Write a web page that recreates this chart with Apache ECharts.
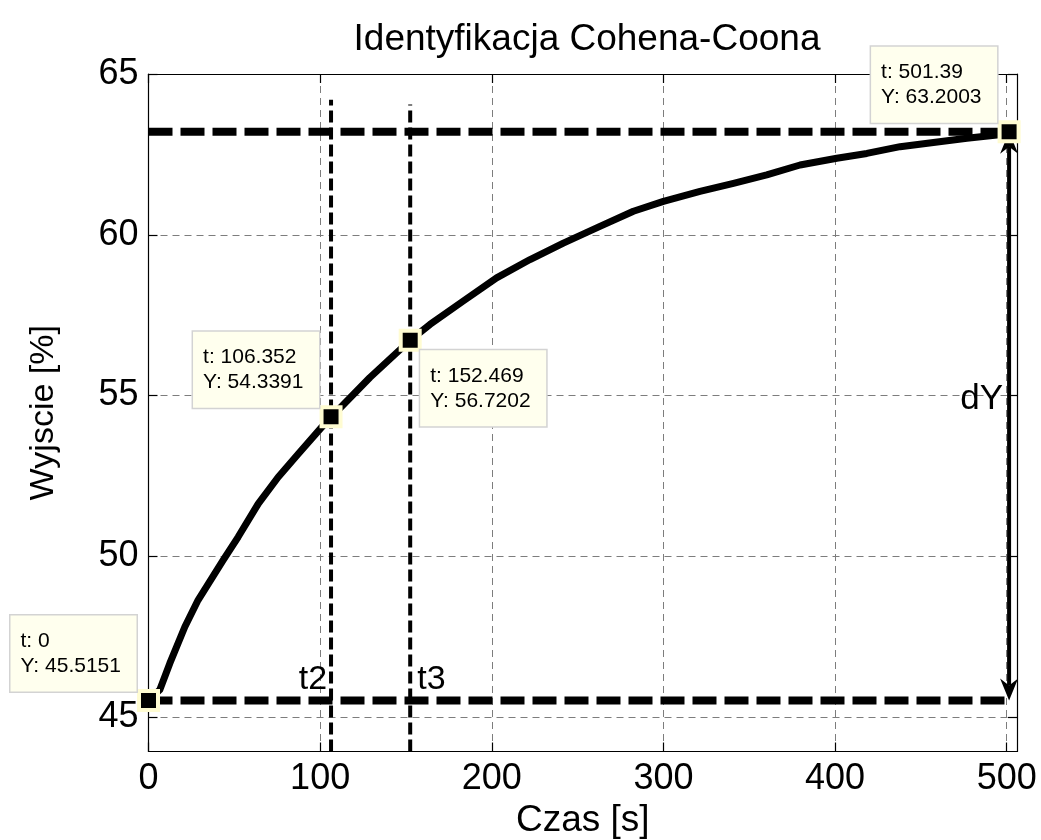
<!DOCTYPE html>
<html>
<head>
<meta charset="utf-8">
<title>Identyfikacja Cohena-Coona</title>
<script src="https://cdn.jsdelivr.net/npm/echarts@6/dist/echarts.min.js"></script>
<style>
  html, body { margin: 0; padding: 0; background: #ffffff; }
  #chart { width: 1041px; height: 840px; }
</style>
</head>
<body>
<div id="chart"></div>
<script>
// Measured step response of the process: time [s] and output [%]
const timeS = [0, 6.6, 12.4, 21.2, 28.9, 43.5, 52.2, 63.9, 75.5, 87.2, 100.8, 106.352,
  110.5, 129, 152.469, 164, 183.4, 202.8, 222.3, 241.7, 263, 282.5, 300, 321.3,
  340.8, 360.2, 379.6, 401, 418.5, 437.9, 457.3, 476.8, 494.3, 501.39];
const outputPct = [45.5151, 45.85, 46.67, 47.81, 48.64, 49.88, 50.6, 51.63, 52.46, 53.18, 54.01, 54.3391,
  54.55, 55.56, 56.7202, 57.21, 57.94, 58.66, 59.23, 59.74, 60.26, 60.73, 61.04, 61.35,
  61.6, 61.86, 62.17, 62.38, 62.53, 62.74, 62.87, 63.0, 63.1, 63.2003];

// Data tips: start point, t2, t3 and end point
const tipTime = [0, 106.352, 152.469, 501.39];
const tipValue = [45.5151, 54.3391, 56.7202, 63.2003];

// Construction lines at t2 and t3 and their names
const lineTags = ['t2', 't3'];
const lineTopValue = [64.2, 64.05];

// Axes
const xTicks = [0, 100, 200, 300, 400, 500];
const yTicks = [45, 50, 55, 60, 65];
const xRange = [0, 506];
const yRange = [43.93, 65];

const FONT = '"Liberation Sans", Arial, Helvetica, sans-serif';
const yLow = tipValue[0];
const yHigh = tipValue[3];
const tEnd = tipTime[3];

const gridLine = { show: true, lineStyle: { color: '#7d7d7d', width: 1, type: [7, 5] } };
const frameLine = { show: true, onZero: false, lineStyle: { color: '#000', width: 1.2 } };
const tickStyle = { color: '#000', width: 1.2 };

function mainX() {
  return {
    type: 'value', position: 'bottom', min: xRange[0], max: xRange[1],
    axisLine: frameLine,
    axisTick: { show: true, inside: true, length: 9, customValues: xTicks, lineStyle: tickStyle },
    axisLabel: { show: true, customValues: xTicks, margin: 10, fontSize: 36, color: '#000', fontFamily: FONT },
    splitLine: gridLine,
    name: 'Czas [s]', nameLocation: 'middle', nameGap: 50,
    nameTextStyle: { fontSize: 37, color: '#000', fontFamily: FONT }
  };
}
function mirrorX() {
  return {
    type: 'value', position: 'top', min: xRange[0], max: xRange[1],
    axisLine: frameLine,
    axisTick: { show: true, inside: true, length: 9, customValues: xTicks, lineStyle: tickStyle },
    axisLabel: { show: false }, splitLine: { show: false }
  };
}
function mainY() {
  return {
    type: 'value', position: 'left', min: yRange[0], max: yRange[1],
    axisLine: frameLine,
    axisTick: { show: true, inside: true, length: 9, customValues: yTicks, lineStyle: tickStyle },
    axisLabel: { show: true, customValues: yTicks, margin: 10, fontSize: 36, color: '#000', fontFamily: FONT },
    splitLine: gridLine,
    name: 'Wyjscie [%]', nameLocation: 'middle', nameGap: 88, nameRotate: 90,
    nameTextStyle: { fontSize: 34, color: '#000', fontFamily: FONT }
  };
}
function mirrorY() {
  return {
    type: 'value', position: 'right', min: yRange[0], max: yRange[1],
    axisLine: frameLine,
    axisTick: { show: true, inside: true, length: 9, customValues: yTicks, lineStyle: tickStyle },
    axisLabel: { show: false }, splitLine: { show: false }
  };
}

// Data tip boxes are 126 x 76 px; placed above-left of the point, except at t3 (below-right)
const tipOffset = [[-138, -85], [-138, -85], [10, 10], [-138, -85]];

const tipData = tipTime.map((t, i) => ({
  value: [t, tipValue[i]],
  label: {
    show: true, position: 'inside', align: 'left', verticalAlign: 'top',
    offset: tipOffset[i],
    formatter: 't: ' + t + '\nY: ' + tipValue[i],
    fontSize: 21, lineHeight: 25, color: '#000', fontFamily: FONT,
    backgroundColor: '#ffffee', borderColor: '#d3d3d3', borderWidth: 1.5,
    padding: [13, 10, 13, 10], width: 106
  }
}));

const dashedThick = { color: '#000', width: 8, type: [24, 8], cap: 'butt' };
const dashedThin = { color: '#000', width: 4, type: [12, 5], cap: 'butt' };

const option = {
  backgroundColor: '#ffffff',
  animation: false,
  title: {
    text: 'Identyfikacja Cohena-Coona',
    left: 582, top: 16, textAlign: 'center',
    textStyle: { fontSize: 37, fontWeight: 'normal', color: '#000', fontFamily: FONT }
  },
  grid: { left: 148.5, right: 24, top: 74, bottom: 88.5, show: false, outerBoundsMode: 'none' },
  xAxis: [mainX(), mirrorX()],
  yAxis: [mainY(), mirrorY()],
  series: [
    {
      type: 'line', silent: true, symbol: 'none', z: 2,
      data: [[0, yLow], [tEnd, yLow]], lineStyle: dashedThick
    },
    {
      type: 'line', silent: true, symbol: 'none', z: 2,
      data: [[0, yHigh], [tEnd, yHigh]], lineStyle: dashedThick
    },
    {
      type: 'line', silent: true, symbol: 'none', z: 2,
      data: [[tipTime[1], yRange[0]], [tipTime[1], lineTopValue[0]]], lineStyle: dashedThin
    },
    {
      type: 'line', silent: true, symbol: 'none', z: 2,
      data: [[tipTime[2], yRange[0]], [tipTime[2], lineTopValue[1]]], lineStyle: dashedThin
    },
    {
      // step response curve
      type: 'line', silent: true, symbol: 'none', z: 3,
      data: timeS.map((t, i) => [t, outputPct[i]]),
      lineStyle: { color: '#000', width: 7, join: 'round', cap: 'round' }
    },
    {
      // t2 / t3 names next to the construction lines
      type: 'custom', silent: true, z: 4,
      data: lineTags.map((tag, i) => [tipTime[i + 1], yLow, i]),
      encode: { x: 0, y: 1 },
      renderItem(params, api) {
        const p = api.coord([api.value(0), api.value(1)]);
        const first = api.value(2) === 0;
        return {
          type: 'text',
          style: {
            text: lineTags[api.value(2)],
            x: p[0] + (first ? -4 : 7), y: p[1] - 21,
            align: first ? 'right' : 'left', verticalAlign: 'middle',
            fontSize: 34, fontFamily: FONT, fill: '#000'
          }
        };
      }
    },
    {
      // dY: double-headed arrow spanning the output change
      type: 'custom', silent: true, z: 4,
      data: [[tEnd, yLow, yHigh]],
      encode: { x: 0, y: [1, 2] },
      renderItem(params, api) {
        const x = api.value(0);
        const a = api.coord([x, api.value(1)]);
        const b = api.coord([x, api.value(2)]);
        const L = 22, W = 9, N = 7;
        function head(tip, s) {
          return {
            type: 'polygon',
            shape: { points: [
              [tip[0], tip[1]],
              [tip[0] - W, tip[1] - s * L],
              [tip[0], tip[1] - s * (L - N)],
              [tip[0] + W, tip[1] - s * L]
            ] },
            style: { fill: '#000' }
          };
        }
        const mid = (a[1] + b[1]) / 2;
        return {
          type: 'group',
          children: [
            { type: 'line', shape: { x1: a[0], y1: a[1] - (L - N), x2: b[0], y2: b[1] + (L - N) },
              style: { stroke: '#000', lineWidth: 4 } },
            head(a, 1),
            head(b, -1),
            { type: 'text', style: { text: 'dY', x: a[0] - 6, y: mid - 17, align: 'right',
              verticalAlign: 'middle', fontSize: 35, fontFamily: FONT, fill: '#000' } }
          ]
        };
      }
    },
    {
      // data tip markers
      type: 'scatter', silent: true, z: 6,
      symbol: 'rect', symbolSize: 19,
      itemStyle: { color: '#000', borderColor: '#fffcd2', borderWidth: 4, opacity: 1 },
      data: tipData
    }
  ]
};

const chart = echarts.init(document.getElementById('chart'), null, { renderer: 'canvas' });
chart.setOption(option);
</script>
</body>
</html>
